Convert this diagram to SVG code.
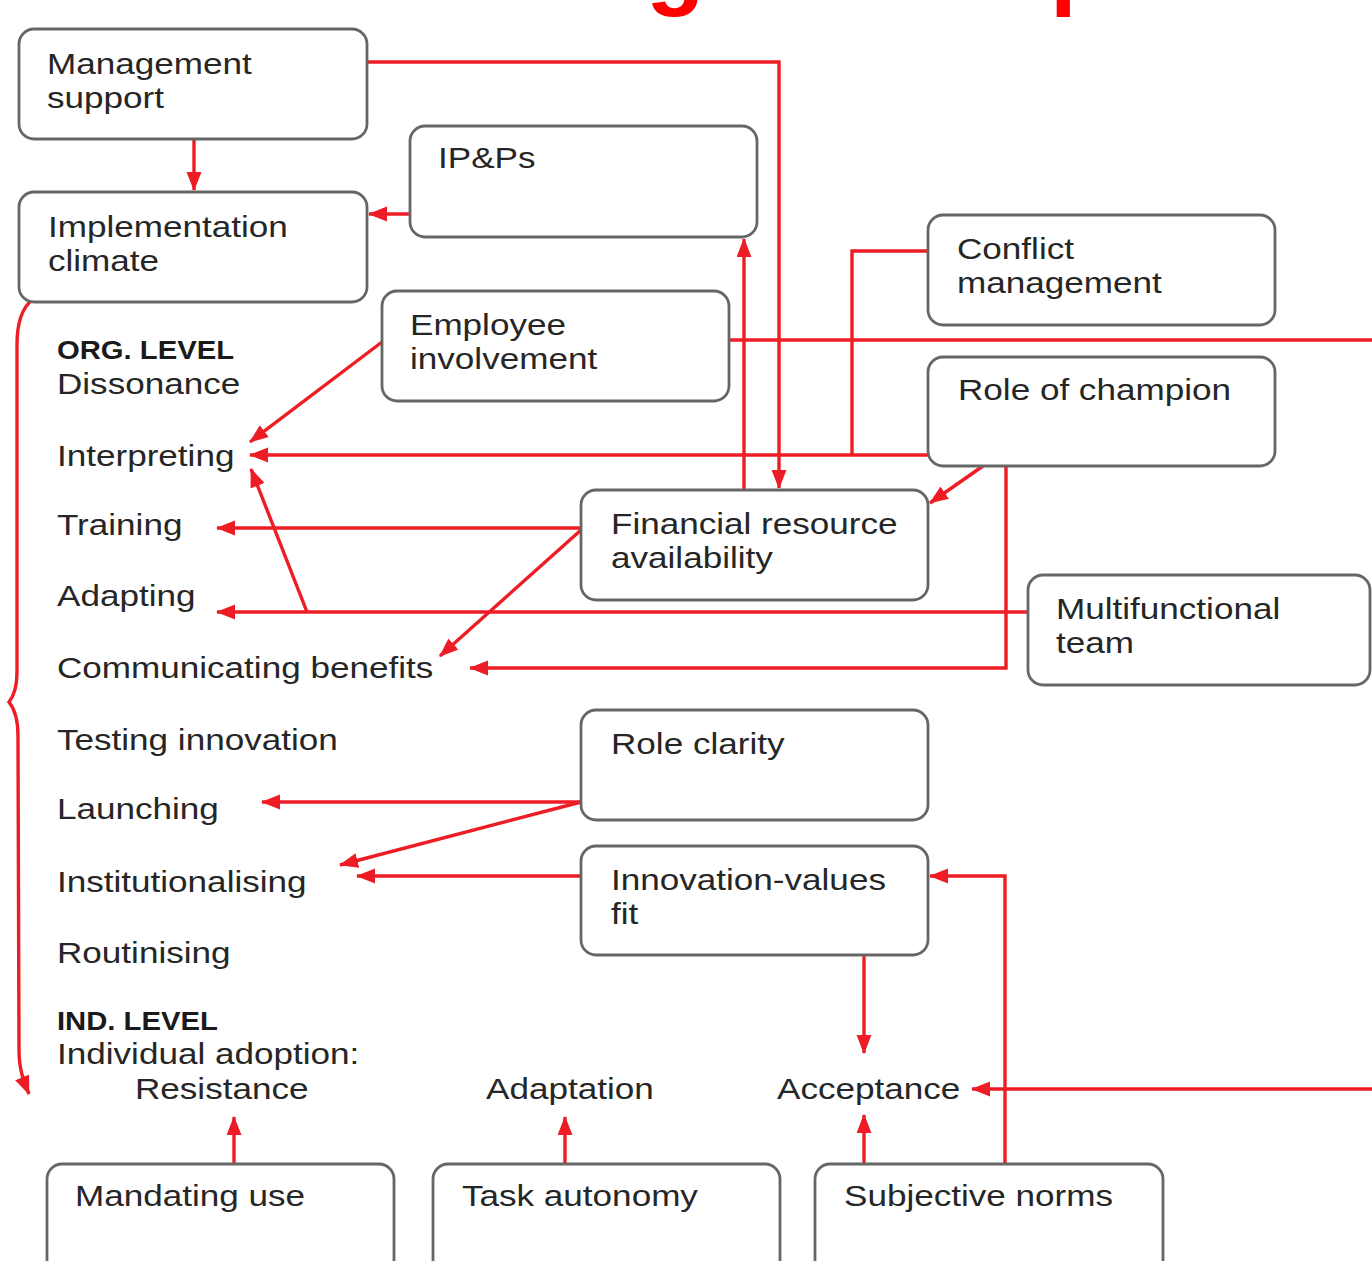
<svg xmlns="http://www.w3.org/2000/svg" width="1372" height="1261" viewBox="0 0 1372 1261">
<style>
.box{fill:#fff;stroke:#666;stroke-width:2.8}
.t{font-family:"Liberation Sans",Arial,sans-serif;font-size:30px;fill:#262626}
.b{font-family:"Liberation Sans",Arial,sans-serif;font-size:25px;font-weight:bold;fill:#1a1a1a}
.ttl{font-family:"Liberation Sans",Arial,sans-serif;font-size:96px;font-weight:bold;fill:#ff0000}
.c{fill:none;stroke:#ee1c24;stroke-width:3.4}
</style>
<defs>
<marker id="ah" markerUnits="userSpaceOnUse" markerWidth="20" markerHeight="16" refX="18" refY="7.5" orient="auto">
<path d="M0,0 L19,7.5 L0,15 z" fill="#ee1c24"/>
</marker>
</defs>
<rect width="1372" height="1261" fill="#fff"/>
<g id="title">
<text class="ttl" x="646" y="-3">g</text>
<text class="ttl" x="1050" y="-3">p</text>
</g>
<g id="connectors">
<path class="c" d="M367,62 H779 V488" marker-end="url(#ah)"/>
<path class="c" d="M194,139 V190" marker-end="url(#ah)"/>
<path class="c" d="M410,214 H369" marker-end="url(#ah)"/>
<path class="c" d="M744,490 V239" marker-end="url(#ah)"/>
<path class="c" d="M729,340 H1372"/>
<path class="c" d="M382,342 L250,442" marker-end="url(#ah)"/>
<path class="c" d="M928,455 H250" marker-end="url(#ah)"/>
<path class="c" d="M928,251 H852 V455"/>
<path class="c" d="M983,466 L930,503" marker-end="url(#ah)"/>
<path class="c" d="M1006,466 V668 H470" marker-end="url(#ah)"/>
<path class="c" d="M581,528 H217" marker-end="url(#ah)"/>
<path class="c" d="M581,530 L440,656" marker-end="url(#ah)"/>
<path class="c" d="M1028,612 H217" marker-end="url(#ah)"/>
<path class="c" d="M307,612 L251,469" marker-end="url(#ah)"/>
<path class="c" d="M581,802 H262" marker-end="url(#ah)"/>
<path class="c" d="M581,802 L340,865" marker-end="url(#ah)"/>
<path class="c" d="M581,876 H357" marker-end="url(#ah)"/>
<path class="c" d="M864,955 V1053" marker-end="url(#ah)"/>
<path class="c" d="M1005,1164 V876 H930" marker-end="url(#ah)"/>
<path class="c" d="M864,1164 V1115" marker-end="url(#ah)"/>
<path class="c" d="M1372,1089 H972" marker-end="url(#ah)"/>
<path class="c" d="M234,1164 V1117" marker-end="url(#ah)"/>
<path class="c" d="M565,1164 V1117" marker-end="url(#ah)"/>
<path class="c" d="M32,300 C22,308 17,322 17,345 L17,672 C17,690 13,697 9,702 C13,707 18,716 18,736 L19,1050 C19,1070 24,1082 29,1094" marker-end="url(#ah)"/>
</g>
<g id="n-management-support"><rect class="box" x="19" y="29" width="348" height="110" rx="15"/><text class="t" transform="translate(47 74) scale(1.17 1)">Management<tspan x="0" dy="34">support</tspan></text></g>
<g id="n-implementation-climate"><rect class="box" x="19" y="192" width="348" height="110" rx="15"/><text class="t" transform="translate(48 237) scale(1.17 1)">Implementation<tspan x="0" dy="34">climate</tspan></text></g>
<g id="n-ipps"><rect class="box" x="410" y="126" width="347" height="111" rx="15"/><text class="t" transform="translate(438 168) scale(1.17 1)">IP&amp;Ps</text></g>
<g id="n-employee-involvement"><rect class="box" x="382" y="291" width="347" height="110" rx="15"/><text class="t" transform="translate(410 335) scale(1.17 1)">Employee<tspan x="0" dy="34">involvement</tspan></text></g>
<g id="n-conflict-management"><rect class="box" x="928" y="215" width="347" height="110" rx="15"/><text class="t" transform="translate(957 259) scale(1.17 1)">Conflict<tspan x="0" dy="34">management</tspan></text></g>
<g id="n-role-of-champion"><rect class="box" x="928" y="357" width="347" height="109" rx="15"/><text class="t" transform="translate(958 400) scale(1.17 1)">Role of champion</text></g>
<g id="n-financial-resource"><rect class="box" x="581" y="490" width="347" height="110" rx="15"/><text class="t" transform="translate(611 534) scale(1.17 1)">Financial resource<tspan x="0" dy="34">availability</tspan></text></g>
<g id="n-multifunctional-team"><rect class="box" x="1028" y="575" width="342" height="110" rx="15"/><text class="t" transform="translate(1056 619) scale(1.17 1)">Multifunctional<tspan x="0" dy="34">team</tspan></text></g>
<g id="n-role-clarity"><rect class="box" x="581" y="710" width="347" height="110" rx="15"/><text class="t" transform="translate(611 754) scale(1.17 1)">Role clarity</text></g>
<g id="n-innovation-values-fit"><rect class="box" x="581" y="846" width="347" height="109" rx="15"/><text class="t" transform="translate(611 890) scale(1.17 1)">Innovation-values<tspan x="0" dy="34">fit</tspan></text></g>
<g id="n-mandating-use"><rect class="box" x="47" y="1164" width="347" height="120" rx="15"/><text class="t" transform="translate(75 1206) scale(1.17 1)">Mandating use</text></g>
<g id="n-task-autonomy"><rect class="box" x="433" y="1164" width="347" height="120" rx="15"/><text class="t" transform="translate(462 1206) scale(1.17 1)">Task autonomy</text></g>
<g id="n-subjective-norms"><rect class="box" x="815" y="1164" width="348" height="120" rx="15"/><text class="t" transform="translate(844 1206) scale(1.17 1)">Subjective norms</text></g>
<g id="stages">
<text class="b" transform="translate(57 359) scale(1.17 1)">ORG. LEVEL</text>
<text class="t" transform="translate(57 394) scale(1.17 1)">Dissonance</text>
<text class="t" transform="translate(57 466) scale(1.17 1)">Interpreting</text>
<text class="t" transform="translate(57 535) scale(1.17 1)">Training</text>
<text class="t" transform="translate(57 606) scale(1.17 1)">Adapting</text>
<text class="t" transform="translate(57 678) scale(1.17 1)">Communicating benefits</text>
<text class="t" transform="translate(57 750) scale(1.17 1)">Testing innovation</text>
<text class="t" transform="translate(57 819) scale(1.17 1)">Launching</text>
<text class="t" transform="translate(57 892) scale(1.17 1)">Institutionalising</text>
<text class="t" transform="translate(57 963) scale(1.17 1)">Routinising</text>
<text class="b" transform="translate(57 1030) scale(1.17 1)">IND. LEVEL</text>
<text class="t" transform="translate(57 1064) scale(1.17 1)">Individual adoption:</text>
<text class="t" transform="translate(135 1099) scale(1.17 1)">Resistance</text>
<text class="t" transform="translate(486 1099) scale(1.17 1)">Adaptation</text>
<text class="t" transform="translate(777 1099) scale(1.17 1)">Acceptance</text>
</g>
</svg>
